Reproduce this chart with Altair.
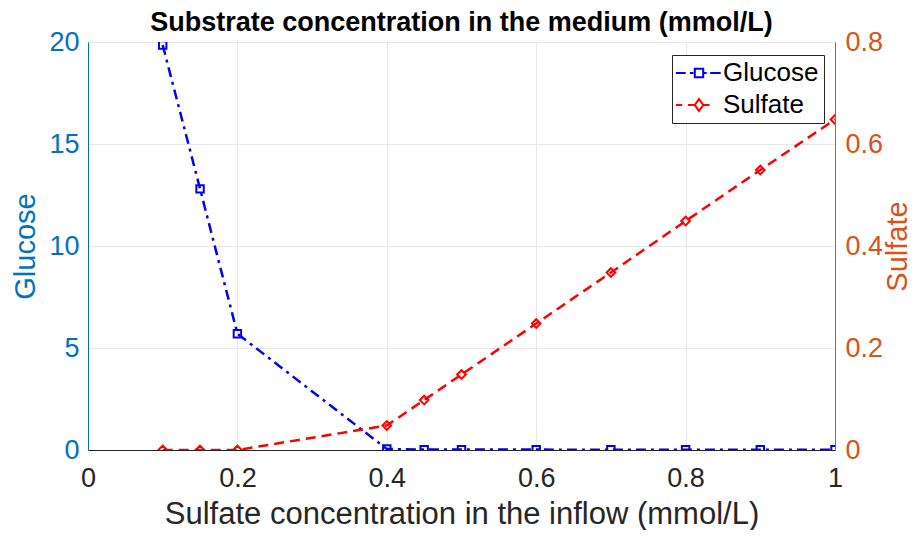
import altair as alt
import pandas as pd

inflow = [0.1, 0.15, 0.2, 0.4, 0.45, 0.5, 0.6, 0.7, 0.8, 0.9, 1.0]
glucose = [19.85, 12.8, 5.7, 0.05, 0.02, 0.02, 0.02, 0.01, 0.01, 0.01, 0.01]
sulfate = [0.0, 0.0, 0.0, 0.048, 0.098, 0.148, 0.248, 0.348, 0.449, 0.549, 0.648]
series = ["Glucose", "Sulfate"]
x_ticks = [0, 0.2, 0.4, 0.6, 0.8, 1]
g_ticks = [0, 5, 10, 15, 20]
s_ticks = [0, 0.2, 0.4, 0.6, 0.8]

df = pd.DataFrame({"inflow": inflow, "Glucose": glucose, "Sulfate": sulfate})

FONT = "Liberation Sans"
BLUE_AX = "#0072BD"
ORANGE_AX = "#D95319"
DARK = "#262626"

# legend symbols: line + marker paths (unit coords)
glu_path = ("M-3.3,0H-1.9M-1.3,0H-0.8M-0.6,-0.6H0.6V0.6H-0.6ZM0.6,0H1.1M1.6,0H3.1")
sul_path = ("M-3.3,0H-2.4M-1.6,0H-0.6M0,-0.85L0.6,0L0,0.85L-0.6,0ZM0.6,0H1.5")

x_enc = alt.X(
    "inflow:Q",
    scale=alt.Scale(domain=[0, 1], nice=False, zero=False),
    axis=alt.Axis(values=x_ticks, format="~g",
                  title="Sulfate concentration in the inflow (mmol/L)",
                  labelFontSize=27, titleFontSize=31, labelColor=DARK,
                  titleColor=DARK, domainColor=DARK, labelPadding=15,
                  labelFlush=False,
                  titlePadding=8, grid=True, gridColor="#E8E8E8", ticks=False),
)

yg = alt.Y(
    "Glucose:Q",
    scale=alt.Scale(domain=[0, 20], nice=False),
    axis=alt.Axis(values=g_ticks, title="Glucose", orient="left",
                  labelFontSize=27, titleFontSize=29, labelColor=BLUE_AX,
                  titleColor=BLUE_AX, domainColor=BLUE_AX, labelPadding=9,
                  titlePadding=8, grid=True, gridColor="#E8E8E8", ticks=False),
)

ys = alt.Y(
    "Sulfate:Q",
    scale=alt.Scale(domain=[0, 0.8], nice=False),
    axis=alt.Axis(values=s_ticks, format="~g", title="Sulfate", orient="right",
                  labelFontSize=27, titleFontSize=29, labelColor=ORANGE_AX,
                  titleColor=ORANGE_AX, domainColor=ORANGE_AX, labelPadding=10,
                  titlePadding=30, titleAngle=270, grid=False, ticks=False),
)

base = alt.Chart(df)

g_line = base.mark_line(color="#0000FF", strokeWidth=2.5, strokeDash=[10, 5, 3, 5],
                        clip=True).encode(x=x_enc, y=yg)
g_pts = base.mark_point(shape="square", filled=False, color="#0000FF", size=55,
                        strokeWidth=2, opacity=1, clip=True).encode(x=x_enc, y=yg)

leg = alt.Legend(orient="none", legendX=584, legendY=13, title=None,
                 fillColor="white", strokeColor=DARK, padding=5,
                 labelFont=FONT, labelFontSize=26, labelColor="black",
                 symbolSize=196, symbolStrokeWidth=2, symbolOpacity=1,
                 symbolOffset=9, labelOffset=11, rowPadding=6,
                 symbolFillColor="transparent")

legend_layer = base.transform_fold(["Glucose", "Sulfate"], as_=["series", "val"]).mark_point(
    opacity=0, filled=False, clip=True
).encode(
    x=x_enc, y=yg,
    color=alt.Color("series:N", scale=alt.Scale(domain=series, range=["#0000FF", "#FF0000"]), legend=leg),
    shape=alt.Shape("series:N", scale=alt.Scale(domain=series, range=[glu_path, sul_path]), legend=leg),
)

s_line = base.mark_line(color="#FF0000", strokeWidth=2.5, strokeDash=[10, 6],
                        clip=True).encode(x=x_enc, y=ys)
s_pts = base.mark_point(shape="diamond", filled=False, color="#FF0000", size=75,
                        strokeWidth=2, opacity=1, clip=True).encode(x=x_enc, y=ys)

left = alt.layer(g_line, g_pts, legend_layer)
right = alt.layer(s_line, s_pts)

chart = alt.layer(left, right).resolve_scale(y="independent").properties(
    width=747, height=408,
    title=alt.Title("Substrate concentration in the medium (mmol/L)", font=FONT,
                    fontSize=27, fontWeight="bold", color="black", anchor="middle", offset=-9),
    autosize=alt.AutoSizeParams(type="none"),
    padding={"left": 80, "top": 34, "right": 78, "bottom": 80},
).configure(font=FONT).configure_axis(labelFont=FONT, titleFont=FONT, titleFontWeight="normal").configure_view(
    stroke=DARK, strokeWidth=1
)

chart.save("out.html", embed_options={"renderer": "svg", "actions": False})
